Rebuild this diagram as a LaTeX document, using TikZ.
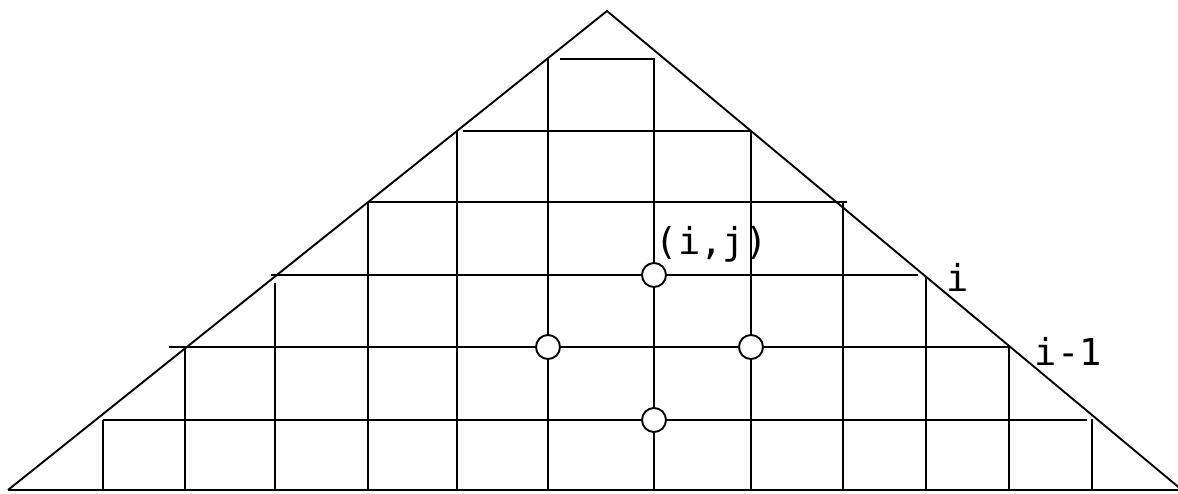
\documentclass[tikz,border=0pt]{standalone}
\usepackage{fontspec}
\setmonofont{DejaVu Sans Mono}
\begin{document}
\begin{tikzpicture}[x=1pt,y=-1pt,line width=1.9pt,
  site/.style={circle,draw,fill=white,inner sep=0pt,minimum size=24pt},
  lbl/.style={font=\ttfamily\fontsize{37}{41}\selectfont,inner sep=0pt,anchor=base west}]
  \useasboundingbox (0,0) rectangle (1178,493);

  % outline of the triangle
  \coordinate (left) at (8,490);
  \coordinate (apex) at (607,11);
  \coordinate (right) at (1182,490);
  \draw (left) -- (apex) -- (right);
  \draw (left) -- (right);

  % rows: y / left end / right end
  \foreach \y/\l/\r in {59/560/655,131/463/751,202/368/847,
                        275/271/918,347/169/1009,420/103/1087}{
    \draw (\l,\y) -- (\r,\y);
  }
  % columns: x / top end
  \foreach \x/\t in {103/420,185/347,275/283,368/202,457/131,548/58,
                     654/59,751/131,843/203,926/277,1009/347,1092/419}{
    \draw (\x,\t) -- (\x,490);
  }

  % stencil points
  \node[site] (ij) at (654,275) {};
  \node[site] (west) at (548,347) {};
  \node[site] (east) at (751,347) {};
  \node[site] (south) at (654,420) {};

  \node[lbl] (ijlabel) at (655,254) {(i,j)};
  \node[lbl] (rowi) at (946,291) {i};
  \node[lbl] (rowim) at (1034,365) {i-1};
\end{tikzpicture}
\end{document}
